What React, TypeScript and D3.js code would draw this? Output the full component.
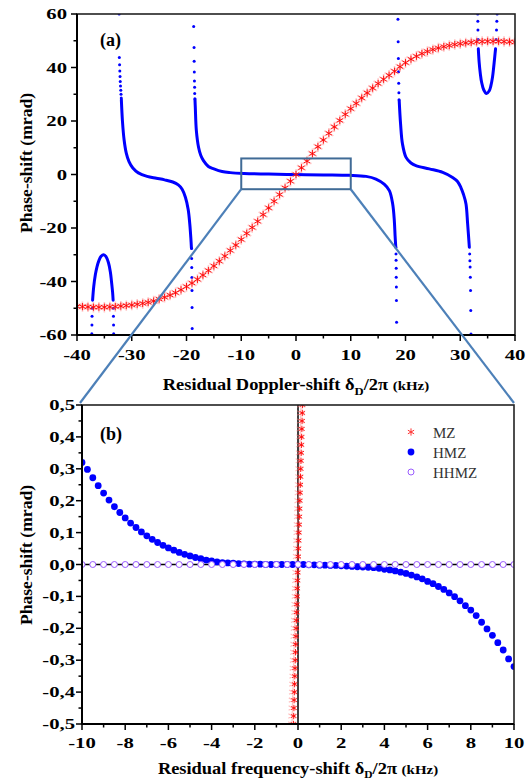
import React from 'react';
import * as d3 from 'd3';

// ---------- ticks ----------
const topXTicks = [-40, -30, -20, -10, 0, 10, 20, 30, 40];
const topXMinor = [-35, -25, -15, -5, 5, 15, 25, 35];
const topYTicks = [-60, -40, -20, 0, 20, 40, 60];
const topYMinor = [-50, -30, -10, 10, 30, 50];
const botXTicks = [-10, -8, -6, -4, -2, 0, 2, 4, 6, 8, 10];
const botXMinor = [-9, -7, -5, -3, -1, 1, 3, 5, 7, 9];
const botYTicks = [-0.5, -0.4, -0.3, -0.2, -0.1, 0, 0.1, 0.2, 0.3, 0.4, 0.5];
const botYTickLabels = ['-0,5', '-0,4', '-0,3', '-0,2', '-0,1', '0,0', '0,1', '0,2', '0,3', '0,4', '0,5'];
const botYMinor = [-0.45, -0.35, -0.25, -0.15, -0.05, 0.05, 0.15, 0.25, 0.35, 0.45];

// ---------- panel (a): MZ (x = -40..40 step 1) ----------
const mzTopX = d3.range(-40, 40.5, 1);
const mzTopY = [
  -49.3, -49.4, -49.5, -49.6, -49.6, -49.6, -49.5, -49.4, -49.2, -49.0,
  -48.8, -48.5, -48.2, -47.8, -47.3, -46.6, -45.9, -45.1, -44.2, -43.1,
  -41.9, -40.6, -39.2, -37.6, -35.9, -34.2, -32.4, -30.5, -28.4, -26.4,
  -24.3, -22.0, -19.8, -17.5, -15.0, -12.5, -10.0, -7.5, -5.0, -2.5,
  0,
  2.5, 5.0, 7.8, 10.4, 12.9, 15.4, 17.8, 20.2, 22.5, 24.6,
  26.6, 28.6, 30.5, 32.3, 34.0, 35.6, 37.1, 38.6, 40.3, 41.8,
  43.1, 44.2, 45.2, 46.0, 46.7, 47.3, 47.8, 48.2, 48.6, 48.9,
  49.2, 49.4, 49.6, 49.7, 49.8, 49.8, 49.8, 49.7, 49.6, 49.5,
];

// ---------- panel (a): HMZ branches (dense parts) ----------
const hmzBranchA: [number, number][] = [
  [-31.9, 28], [-31.7, 20], [-31.4, 13], [-31.0, 8], [-30.5, 4.8], [-29.8, 2.4], [-28.8, 0.6],
  [-27.2, -0.7], [-25.5, -1.4], [-24.0, -2.0], [-22.5, -2.8], [-21.5, -3.9], [-20.8, -5.5],
  [-20.2, -8.5], [-19.7, -13], [-19.4, -18.5], [-19.2, -24], [-19.1, -27.5],
];
const hmzBranchB: [number, number][] = [
  [-18.45, 28], [-18.39, 25], [-18.2, 16.4], [-17.8, 10.2], [-17.4, 7.2], [-16.9, 5.2], [-16.0, 3.0],
  [-15.0, 2.1], [-13.5, 1.1], [-12.0, 0.7], [-9.5, 0.4], [-5, 0.15], [0, 0], [5, -0.15],
  [9.7, -0.3], [12.8, -0.7], [14.6, -1.7], [16.1, -3.6], [17.05, -6], [17.66, -11],
  [17.96, -17.3], [18.1, -23], [18.22, -27],
];
const hmzBranchC: [number, number][] = [
  [18.85, 27.6], [19.1, 18.9], [19.45, 11.4], [20.1, 6.4], [21.0, 4.3], [21.9, 3.3], [24.35, 2.1],
  [26.8, 0.8], [28.6, -1.1], [29.5, -2.6], [30.1, -4.8], [30.6, -7.5], [31.05, -11],
  [31.35, -18.5], [31.66, -27.2],
];
const hmzHumpL: [number, number][] = [
  [-37.15, -47], [-36.95, -42], [-36.65, -37.5], [-36.35, -34.5], [-36.0, -32.2], [-35.6, -30.6],
  [-35.13, -30], [-34.7, -30.7], [-34.25, -33], [-33.9, -36.5], [-33.7, -40], [-33.5, -44], [-33.4, -47],
];
const hmzHumpR: [number, number][] = [
  [33.3, 47], [33.45, 42], [33.67, 37.6], [33.9, 34.5], [34.3, 31.6], [34.8, 30.3], [35.3, 31.3],
  [35.6, 33.2], [35.9, 36.5], [36.1, 40], [36.3, 44], [36.45, 47],
];
// sparse dots (steep parts)
const hmzDots: [number, number][] = [
  [-32.3, 60], [-32.27, 43.7], [-32.22, 41], [-32.18, 38.7], [-32.14, 36.6], [-32.1, 34.8],
  [-32.05, 33.1], [-32.0, 31.5], [-31.96, 30], [-31.92, 28.6],
  [-19.08, -27.7], [-19.06, -31.4], [-19.04, -34.8], [-19.02, -38.5], [-19.0, -43.4], [-18.98, -49.7], [-18.96, -57.6],
  [-18.69, 55.3], [-18.62, 47.5], [-18.6, 42.3], [-18.57, 38.3], [-18.55, 35], [-18.52, 32.6], [-18.5, 30.3], [-18.47, 28.3],
  [18.24, -27.2], [18.26, -29.7], [18.28, -32.1], [18.3, -35], [18.31, -38.4], [18.33, -42.1], [18.35, -47.1], [18.37, -55.2],
  [18.62, 58], [18.66, 49.6], [18.7, 43.4], [18.73, 38.4], [18.76, 34.1], [18.79, 30.6], [18.82, 27.9],
  [31.72, -29.7], [31.76, -32.2], [31.8, -34.6], [31.84, -38.4], [31.88, -43.4], [31.92, -50.8], [31.96, -59.6],
  [-37.22, -50], [-37.25, -53], [-37.27, -56.3], [-37.29, -59.5],
  [-33.37, -50], [-33.34, -53], [-33.32, -56.3], [-33.3, -59.5],
  [33.26, 50.5], [33.23, 54], [33.21, 57.3], [33.19, 60],
  [36.55, 50.5], [36.62, 54], [36.68, 57.3], [36.74, 60],
];

// ---------- panel (b) ----------
const hmzZoomX = d3.range(-10, 10.01, 0.25);
const hmzZoomY = [
  0.320, 0.298, 0.272, 0.247, 0.224, 0.202, 0.181, 0.163, 0.146, 0.130,
  0.116, 0.102, 0.090, 0.079, 0.069, 0.060, 0.052, 0.045, 0.038, 0.032,
  0.027, 0.022, 0.018, 0.014, 0.011, 0.008, 0.006, 0.005, 0.004, 0.003,
  0.002, 0.001, 0.001, 0.001, 0.000, 0.000, 0.000, 0.000, 0.000, 0.000,
  0,
  0.000, -0.001, -0.001, -0.002, -0.002, -0.003, -0.003, -0.004, -0.005, -0.006,
  -0.007, -0.008, -0.009, -0.010, -0.012, -0.015, -0.017, -0.020, -0.024, -0.028,
  -0.033, -0.039, -0.045, -0.053, -0.060, -0.069, -0.078, -0.089, -0.101, -0.114,
  -0.129, -0.143, -0.160, -0.181, -0.202, -0.222, -0.245, -0.268, -0.296, -0.320,
];
const hhmzZoomX = d3.range(-10, 10.01, 0.5);
const hhmzZoomY = [
  0, 0, 0, 0, 0, 0, 0, 0, 0, 0, 0, 0, 0, 0, 0, 0, 0, 0, 0, 0, 0,
  0, 0, 0, 0, 0, 0, 0, 0, 0, 0, 0, 0, 0, 0, 0, 0, 0, 0, 0, 0,
];
const mzZoomY = [
  -0.5, -0.475, -0.45, -0.425, -0.4, -0.375, -0.35, -0.325, -0.3, -0.275,
  -0.25, -0.225, -0.2, -0.175, -0.15, -0.125, -0.1, -0.075, -0.05, -0.025,
  0,
  0.025, 0.05, 0.075, 0.1, 0.125, 0.15, 0.175, 0.2, 0.225, 0.25,
  0.275, 0.3, 0.325, 0.35, 0.375, 0.4, 0.425, 0.45, 0.475, 0.5,
];
const mzZoomX = [
  -0.210, -0.200, -0.189, -0.179, -0.168, -0.158, -0.147, -0.137, -0.126, -0.116,
  -0.105, -0.095, -0.084, -0.074, -0.063, -0.053, -0.042, -0.032, -0.021, -0.011,
  0,
  0.011, 0.021, 0.032, 0.042, 0.053, 0.063, 0.074, 0.084, 0.095, 0.105,
  0.116, 0.126, 0.137, 0.147, 0.158, 0.168, 0.179, 0.189, 0.200, 0.210,
];
const legendItems = ['MZ', 'HMZ', 'HHMZ'];
const zoomBox = { x0: -10, x1: 10, y0: -5.5, y1: 6 };

// ---------- layout ----------
const FONT = '"Liberation Serif", "Times New Roman", serif';
const T = { l: 77, r: 515, t: 14, b: 335 };
const B = { l: 82, r: 514, t: 405, b: 724 };
const xT = d3.scaleLinear().domain([-40, 40]).range([T.l, T.r]);
const yT = d3.scaleLinear().domain([-60, 60]).range([T.b, T.t]);
const xB = d3.scaleLinear().domain([-10, 10]).range([B.l, B.r]);
const yB = d3.scaleLinear().domain([-0.5, 0.5]).range([B.b, B.t]);

function asterisk(cx: number, cy: number, r: number) {
  const s = r * Math.sin(Math.PI / 3);
  const c = r * Math.cos(Math.PI / 3);
  return `M${cx},${cy - r}L${cx},${cy + r}M${cx - s},${cy - c}L${cx + s},${cy + c}M${cx + s},${cy - c}L${cx - s},${cy + c}`;
}

const blueLine = (pts: [number, number][]) =>
  d3.line<[number, number]>().x((d) => xT(d[0])).y((d) => yT(d[1])).curve(d3.curveCatmullRom.alpha(0.5))(pts) || '';

function TickLabel({ x, y, anchor, children }: { x: number; y: number; anchor: string; children: React.ReactNode }) {
  return (
    <text transform={`translate(${x},${y}) scale(1.38,1)`} textAnchor={anchor} fontSize={15} fontWeight="bold">
      {children}
    </text>
  );
}

export default function App() {
  const mzTopPath = mzTopX.map((x, i) => asterisk(xT(x), yT(mzTopY[i]), 3.6)).join('');
  const mzTopHalo = mzTopX.map((x, i) => asterisk(xT(x), yT(mzTopY[i]), 5.2)).join('');
  const mzZoomPath = mzZoomX.map((x, i) => asterisk(xB(x), yB(mzZoomY[i]), 3.2)).join('');
  const mzZoomHalo = mzZoomX.map((x, i) => asterisk(xB(x) - 1.5, yB(mzZoomY[i]), 4.4)).join('');

  const tickLen = 6, minorLen = 3.5;
  return (
    <svg width={529} height={782} style={{ position: 'absolute', left: 0, top: 0, background: '#fff' }} fontFamily={FONT}>
      <defs>
        <clipPath id="clipT"><rect x={T.l} y={T.t} width={T.r - T.l} height={T.b - T.t} /></clipPath>
        <clipPath id="clipB"><rect x={B.l} y={B.t} width={B.r - B.l} height={B.b - B.t} /></clipPath>
      </defs>

      {/* ===== Panel (a) ===== */}
      <g clipPath="url(#clipT)">
        {[hmzBranchA, hmzBranchB, hmzBranchC, hmzHumpL, hmzHumpR].map((b, i) => (
          <path key={i} d={blueLine(b)} fill="none" stroke="#0000ff" strokeWidth={3} strokeLinecap="round" />
        ))}
        {hmzDots.map((d, i) => (
          <circle key={i} cx={xT(d[0])} cy={yT(d[1])} r={1.5} fill="#0000ff" />
        ))}
        <path d={mzTopHalo} stroke="#ff8080" strokeOpacity={0.45} strokeWidth={1.6} fill="none" />
        <path d={mzTopPath} stroke="#ff0000" strokeWidth={0.9} fill="none" />
      </g>
      <rect x={T.l} y={T.t} width={T.r - T.l} height={T.b - T.t} fill="none" stroke="#222" strokeWidth={1.6} />
      <line x1={T.l} x2={T.l} y1={T.t} y2={T.b} stroke="#000" strokeWidth={2} />
      <line x1={T.l} x2={T.r} y1={T.b} y2={T.b} stroke="#000" strokeWidth={2} />
      {topXTicks.map((t) => (
        <g key={t}>
          <line x1={xT(t)} x2={xT(t)} y1={T.b} y2={T.b + tickLen} stroke="#000" strokeWidth={1.5} />
          <TickLabel x={xT(t)} y={360} anchor="middle">{t}</TickLabel>
        </g>
      ))}
      {topXMinor.map((t) => (
        <line key={t} x1={xT(t)} x2={xT(t)} y1={T.b} y2={T.b + minorLen} stroke="#000" strokeWidth={1.5} />
      ))}
      {topYTicks.map((t) => (
        <g key={t}>
          <line x1={T.l - tickLen} x2={T.l} y1={yT(t)} y2={yT(t)} stroke="#000" strokeWidth={1.5} />
          <TickLabel x={67} y={yT(t) + 5} anchor="end">{t}</TickLabel>
        </g>
      ))}
      {topYMinor.map((t) => (
        <line key={t} x1={T.l - minorLen} x2={T.l} y1={yT(t)} y2={yT(t)} stroke="#000" strokeWidth={1.5} />
      ))}
      <text x={100} y={46} fontSize={18} fontWeight="bold">(a)</text>
      <text transform={`translate(32,163) rotate(-90) scale(1.1,1)`} textAnchor="middle" fontSize={16} fontWeight="bold">Phase-shift (mrad)</text>
      <text transform="translate(296,390) scale(1.15,1)" textAnchor="middle" fontSize={16} fontWeight="bold">
        Residual Doppler-shift δ<tspan fontSize={11} dy={5}>D</tspan>
        <tspan dy={-5}>/2π </tspan>
        <tspan fontSize={13}>(kHz)</tspan>
      </text>

      {/* zoom box + connectors */}
      <rect x={xT(zoomBox.x0)} y={yT(zoomBox.y1)} width={xT(zoomBox.x1) - xT(zoomBox.x0)} height={yT(zoomBox.y0) - yT(zoomBox.y1)}
        fill="none" stroke="#406b96" strokeWidth={2} />
      <line x1={xT(zoomBox.x0)} y1={yT(zoomBox.y0)} x2={xB(-10) - 2} y2={yB(0.5) - 2} stroke="#4d80b8" strokeWidth={2.2} />
      <line x1={xT(zoomBox.x1)} y1={yT(zoomBox.y0)} x2={xB(10)} y2={yB(0.5) - 2} stroke="#4d80b8" strokeWidth={2.2} />

      {/* ===== Panel (b) ===== */}
      <g clipPath="url(#clipB)">
        <line x1={B.l} x2={B.r} y1={yB(0)} y2={yB(0)} stroke="#000" strokeWidth={1.5} />
        <line x1={xB(0)} x2={xB(0)} y1={B.t} y2={B.b} stroke="#000" strokeWidth={1.5} />
        <path d={mzZoomHalo} stroke="#ff8080" strokeOpacity={0.5} strokeWidth={1.2} fill="none" />
        <path d={mzZoomPath} stroke="#ff0000" strokeWidth={0.9} fill="none" />
        {hmzZoomX.map((x, i) => (
          <circle key={i} cx={xB(x)} cy={yB(hmzZoomY[i])} r={3.4} fill="#0000ff" />
        ))}
        {hhmzZoomX.map((x, i) => (
          <circle key={i} cx={xB(x)} cy={yB(hhmzZoomY[i])} r={3} fill="#fff" stroke="#9a5cff" strokeWidth={1} />
        ))}
      </g>
      <rect x={B.l} y={B.t} width={B.r - B.l} height={B.b - B.t} fill="none" stroke="#222" strokeWidth={1.6} />
      <line x1={B.l} x2={B.l} y1={B.t} y2={B.b} stroke="#000" strokeWidth={2} />
      <line x1={B.l} x2={B.r} y1={B.b} y2={B.b} stroke="#000" strokeWidth={2} />
      {botXTicks.map((t) => (
        <g key={t}>
          <line x1={xB(t)} x2={xB(t)} y1={B.b} y2={B.b + tickLen} stroke="#000" strokeWidth={1.5} />
          <TickLabel x={xB(t)} y={748} anchor="middle">{t}</TickLabel>
        </g>
      ))}
      {botXMinor.map((t) => (
        <line key={t} x1={xB(t)} x2={xB(t)} y1={B.b} y2={B.b + minorLen} stroke="#000" strokeWidth={1.5} />
      ))}
      {botYTicks.map((t, i) => (
        <g key={t}>
          <line x1={B.l - tickLen} x2={B.l} y1={yB(t)} y2={yB(t)} stroke="#000" strokeWidth={1.5} />
          <TickLabel x={75} y={yB(t) + 5} anchor="end">{botYTickLabels[i]}</TickLabel>
        </g>
      ))}
      {botYMinor.map((t) => (
        <line key={t} x1={B.l - minorLen} x2={B.l} y1={yB(t)} y2={yB(t)} stroke="#000" strokeWidth={1.5} />
      ))}
      <text x={100} y={440} fontSize={18} fontWeight="bold">(b)</text>
      <text transform={`translate(32,555) rotate(-90) scale(1.1,1)`} textAnchor="middle" fontSize={16} fontWeight="bold">Phase-shift (mrad)</text>
      <text transform="translate(298,774) scale(1.15,1)" textAnchor="middle" fontSize={16} fontWeight="bold">
        Residual frequency-shift δ<tspan fontSize={10} dy={3.5}>D</tspan>
        <tspan dy={-3.5}>/2π </tspan>
        <tspan fontSize={13}>(kHz)</tspan>
      </text>

      {/* legend */}
      {legendItems.map((name, i) => {
        const cy = 432 + i * 20;
        return (
          <g key={name}>
            {i === 0 && <path d={asterisk(411, cy, 3.6)} stroke="#ff3030" strokeWidth={1} fill="none" />}
            {i === 1 && <circle cx={411} cy={cy} r={3.4} fill="#0000ff" />}
            {i === 2 && <circle cx={411} cy={cy} r={3} fill="#fff" stroke="#9a5cff" strokeWidth={1} />}
            <text x={433} y={cy + 6} fontSize={15} fill="#333">{name}</text>
          </g>
        );
      })}
    </svg>
  );
}
